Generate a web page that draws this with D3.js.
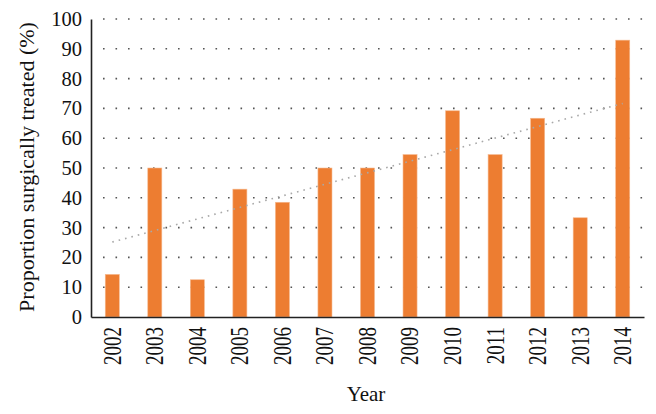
<!DOCTYPE html>
<html>
<head>
<meta charset="utf-8">
<script src="https://cdn.jsdelivr.net/npm/d3@7"></script>
<style>
  body { margin: 0; background: #fff; }
  text { font-family: "Liberation Serif", "DejaVu Serif", serif; fill: #111; }
</style>
</head>
<body>
<svg width="656" height="414"></svg>
<script>
var years = ["2002","2003","2004","2005","2006","2007","2008","2009","2010","2011","2012","2013","2014"];
var proportions = [14.3, 50, 12.5, 42.9, 38.5, 50, 50, 54.5, 69.2, 54.5, 66.7, 33.3, 92.9];
var yTicks = [0,10,20,30,40,50,60,70,80,90,100];

var svg = d3.select("svg");
var plotLeft = 91, plotRight = 644, plotTop = 19, plotBottom = 317;

var x = d3.scaleBand()
    .domain(years)
    .range([plotLeft, plotRight])
    .paddingInner(0.67)
    .paddingOuter(0.335);

var y = d3.scaleLinear()
    .domain([0, 100])
    .range([plotBottom, plotTop]);

// dotted grid
svg.append("g")
  .selectAll("line")
  .data(yTicks.slice(1))
  .enter().append("line")
    .attr("x1", plotLeft + 12)
    .attr("x2", plotRight)
    .attr("y1", function(d) { return y(d); })
    .attr("y2", function(d) { return y(d); })
    .attr("stroke", "#555")
    .attr("stroke-width", 1.6)
    .attr("stroke-dasharray", "1.6,10.9");

// bars
svg.append("g")
  .selectAll("rect")
  .data(proportions)
  .enter().append("rect")
    .attr("x", function(d, i) { return x(years[i]); })
    .attr("y", function(d) { return y(d); })
    .attr("width", x.bandwidth())
    .attr("height", function(d) { return plotBottom - y(d); })
    .attr("fill", "#ED7D31")
    .attr("stroke", "#f6b98f")
    .attr("stroke-width", 0.6);

// linear trend line from the values
var n = proportions.length;
var mx = d3.mean(proportions, function(d, i) { return i; });
var my = d3.mean(proportions);
var sxy = d3.sum(proportions, function(d, i) { return (i - mx) * (d - my); });
var sxx = d3.sum(proportions, function(d, i) { return (i - mx) * (i - mx); });
var slope = sxy / sxx, icpt = my - slope * mx;

svg.append("line")
    .attr("x1", x(years[0]) + x.bandwidth() / 2)
    .attr("x2", x(years[n - 1]) + x.bandwidth() / 2)
    .attr("y1", y(icpt))
    .attr("y2", y(icpt + slope * (n - 1)))
    .attr("stroke", "#a8a8a8")
    .attr("stroke-width", 1.6)
    .attr("stroke-dasharray", "1.6,5");

// axes
var yAxis = svg.append("g")
    .attr("transform", "translate(" + plotLeft + ",0)")
    .call(d3.axisLeft(y).tickValues(yTicks).tickSize(0).tickPadding(9));
yAxis.select(".domain").attr("stroke", "#222").attr("stroke-width", 1.6);
yAxis.selectAll("text").style("font-size", "20.5px").style("font-family", "Liberation Serif").attr("fill", "#111");

var xAxis = svg.append("g")
    .attr("transform", "translate(0," + plotBottom + ")")
    .call(d3.axisBottom(x).tickSize(0).tickPadding(0));
xAxis.select(".domain").attr("stroke", "#222").attr("stroke-width", 1.6);
xAxis.selectAll("text")
    .style("font-size", "19px")
    .style("font-family", "Liberation Serif")
    .attr("fill", "#111")
    .attr("text-anchor", "end")
    .attr("dy", null)
    .attr("y", 0)
    .attr("transform", "translate(0,10) rotate(-90) scale(1,1.3)")
    .attr("dx", 0)
    .attr("dominant-baseline", "central");

// axis titles
svg.append("text")
    .attr("transform", "translate(34,167) rotate(-90)")
    .attr("text-anchor", "middle")
    .style("font-size", "22px")
    .text("Proportion surgically treated (%)");

svg.append("text")
    .attr("x", 366)
    .attr("y", 401)
    .attr("text-anchor", "middle")
    .style("font-size", "21px")
    .text("Year");
</script>
</body>
</html>
